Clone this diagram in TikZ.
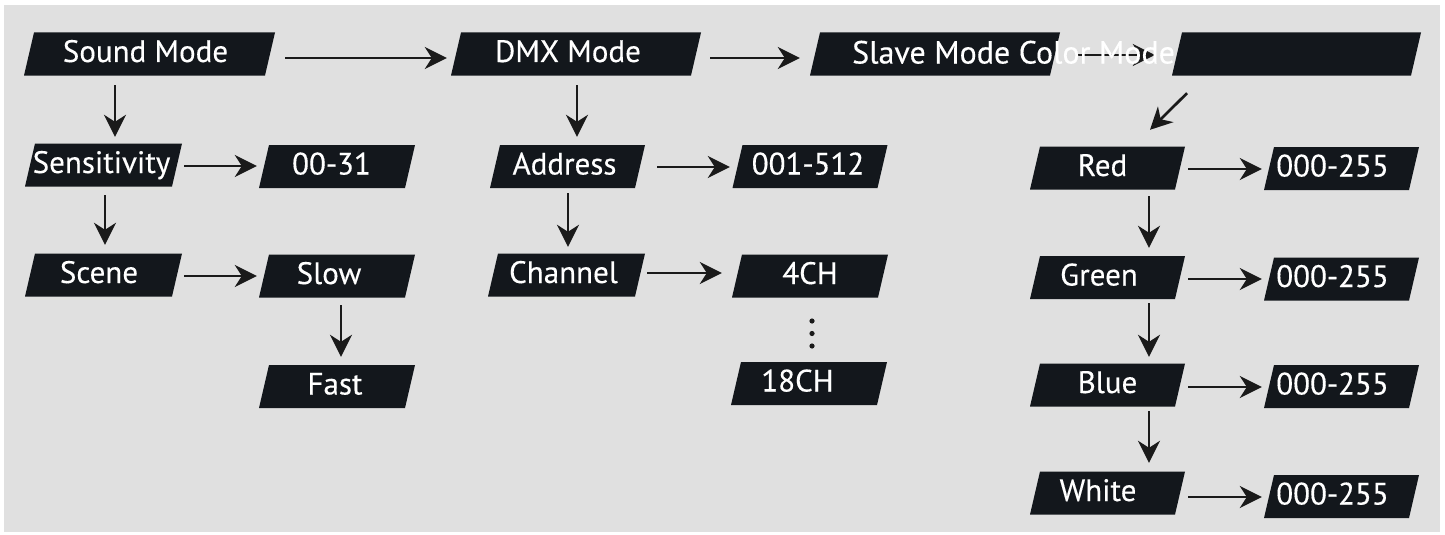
\documentclass[tikz,border=0pt]{standalone}
\usepackage{fontspec}
\setmainfont[FakeBold=0.3]{PT Sans}
\usetikzlibrary{arrows.meta}
\definecolor{bggray}{HTML}{E0E0E0}
\definecolor{boxdark}{HTML}{13171C}
\definecolor{arrowdark}{HTML}{1A1A1A}
\tikzset{
  boxtext/.style={text=white, font=\fontsize{31}{36}\selectfont, inner sep=0pt,
    minimum height=43pt, text height=22.5pt, text depth=6.5pt},
  arr/.style={draw=arrowdark, line width=2.7pt,
    -{Stealth[length=22pt,width=22pt,inset=7pt]}},
}
% name, cx, cy, w, kern (2x text offset), text
\newcommand{\pbox}[6]{%
  \fill[boxdark] ({#2-#4/2+10},{#3-21.5}) -- ({#2+#4/2},{#3-21.5})
     -- ({#2+#4/2-10},{#3+21.5}) -- ({#2-#4/2},{#3+21.5}) -- cycle;
  \node[boxtext, minimum width={#4-10}] (#1) at (#2,#3) {\kern#5pt #6};
}
\begin{document}
\begin{tikzpicture}[x=1pt,y=-1pt]
\fill[white] (0,0) rectangle (1445,535);
\fill[bggray] (4,5) rectangle (1440,532);
\useasboundingbox (0,0) rectangle (1445,535);

% top row
\pbox{snd}{149.5}{54}{251}{-8}{Sound Mode}
\pbox{dmx}{576}{54}{250}{-16}{DMX Mode}
\pbox{slv}{935}{54}{250}{0}{}
\pbox{col}{1296.5}{54}{249}{0}{}

% sound column
\pbox{sen}{103.5}{165}{157}{-4}{Sensitivity}
\pbox{o31}{337}{166.5}{156}{-11}{00-31}
\pbox{scn}{103.5}{275}{157}{-9}{Scene}
\pbox{slw}{337}{276}{156}{-16}{Slow}
\pbox{fst}{337}{386.5}{156}{-4}{Fast}

% dmx column
\pbox{adr}{567.5}{166.5}{155}{-6}{Address}
\pbox{a512}{810}{166.5}{155}{-4}{001-512}
\pbox{chn}{566.5}{275}{157}{-6}{Channel}
\pbox{c4}{810}{276}{156}{0}{4CH}
\pbox{c18}{809}{383.5}{156}{-23}{18CH}

% color column
\pbox{red}{1107.5}{168}{155}{-10}{Red}
\pbox{v1}{1341.5}{168.5}{155}{-18}{000-255}
\pbox{grn}{1107.5}{277.5}{155}{-17}{Green}
\pbox{v2}{1341.5}{279}{155}{-18}{000-255}
\pbox{blu}{1107.5}{385}{155}{0}{Blue}
\pbox{v3}{1341.5}{386.5}{155}{-18}{000-255}
\pbox{wht}{1107.5}{493}{155}{-19}{White}
\pbox{v4}{1341.5}{496.5}{155}{-18}{000-255}

% dots
\fill[arrowdark] (812,321) circle (2.6) (812,333.5) circle (2.6) (812,346) circle (2.6);

% arrows
\draw[arr] ([shift={(15,4)}]snd.east) -- ([shift={(-9,4)}]dmx.west);
\draw[arr] ([shift={(14,4)}]dmx.east) -- ([shift={(-15,4)}]slv.west);
\draw[arr] ([shift={(23,1)}]slv.east) -- ([shift={(-22,1)}]col.west);
\draw[arr] ([shift={(-109.5,17.5)}]col.south) -- ([shift={(42.5,-16.5)}]red.north);

\draw[arr] ([shift={(-34.5,9.5)}]snd.south) -- ([shift={(11.5,-6.5)}]sen.north);
\draw[arr] ([shift={(7,1)}]sen.east) -- ([shift={(-7,-0.5)}]o31.west);
\draw[arr] ([shift={(1.5,8.5)}]sen.south) -- ([shift={(1.5,-8.5)}]scn.north);
\draw[arr] ([shift={(7,1)}]scn.east) -- ([shift={(-7,0)}]slw.west);
\draw[arr] ([shift={(4,7.5)}]slw.south) -- ([shift={(4,-8)}]fst.north);

\draw[arr] ([shift={(1,9.5)}]dmx.south) -- ([shift={(9.5,-8)}]adr.north);
\draw[arr] ([shift={(17,0.5)}]adr.east) -- ([shift={(-7.5,0.5)}]a512.west);
\draw[arr] ([shift={(0.5,5)}]adr.south) -- ([shift={(1.5,-6.5)}]chn.north);
\draw[arr] ([shift={(7,-2)}]chn.east) -- ([shift={(-15,-3)}]c4.west);

\draw[arr] ([shift={(8,1)}]red.east) -- ([shift={(-7,0.5)}]v1.west);
\draw[arr] ([shift={(41.5,6.5)}]red.south) -- ([shift={(41.5,-8)}]grn.north);
\draw[arr] ([shift={(8,1.5)}]grn.east) -- ([shift={(-7,0)}]v2.west);
\draw[arr] ([shift={(41.5,4)}]grn.south) -- ([shift={(41.5,-6.5)}]blu.north);
\draw[arr] ([shift={(8,2)}]blu.east) -- ([shift={(-7,0.5)}]v3.west);
\draw[arr] ([shift={(41.5,4.5)}]blu.south) -- ([shift={(41.5,-8.5)}]wht.north);
\draw[arr] ([shift={(8,4)}]wht.east) -- ([shift={(-7,0.5)}]v4.west);

% overflowing label
\node[anchor=base west, text=white, font=\fontsize{32}{37}\selectfont, inner sep=0pt]
  (slvtxt) at (852,63.5) {Slave Mode Color Mode};
\end{tikzpicture}
\end{document}
